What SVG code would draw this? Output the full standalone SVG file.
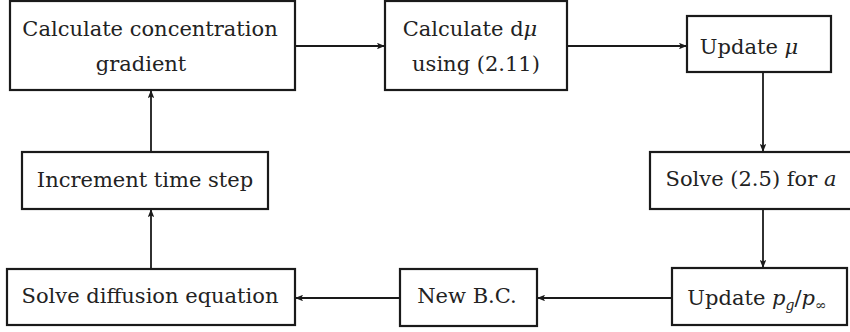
<svg xmlns="http://www.w3.org/2000/svg" width="850" height="332" viewBox="0 0 850 332">
<style>
.box{fill:#fff;stroke:#1a1a1a;stroke-width:2.2}
.t{font-family:'DejaVu Serif',serif;font-size:21px;fill:#222;text-anchor:middle}
.i{font-style:italic}
.c{stroke:#1a1a1a;stroke-width:1.8;fill:none;marker-end:url(#ah)}
</style>
<defs>
<marker id="ah" viewBox="0 0 10 8" refX="10" refY="4" markerWidth="8" markerHeight="6.4" markerUnits="userSpaceOnUse" orient="auto">
<path d="M0,0 L10,4 L0,8 L2,4 z" fill="#1a1a1a"/>
</marker>
</defs>
<rect width="850" height="332" fill="#fff"/>
<g id="connectors">
<line class="c" x1="296" y1="46" x2="385" y2="46"/>
<line class="c" x1="567" y1="46" x2="687" y2="46"/>
<line class="c" x1="763" y1="72" x2="763" y2="152"/>
<line class="c" x1="763" y1="209" x2="763" y2="268"/>
<line class="c" x1="672" y1="298" x2="537" y2="298"/>
<line class="c" x1="400" y1="298" x2="295" y2="298"/>
<line class="c" x1="151" y1="269" x2="151" y2="209"/>
<line class="c" x1="151" y1="152" x2="151" y2="90"/>
</g>
<g id="n1">
<rect class="box" x="10" y="1" width="285" height="89"/>
<text class="t" x="150" y="36">Calculate concentration</text>
<text class="t" x="141" y="71">gradient</text>
</g>
<g id="n2">
<rect class="box" x="385" y="1" width="182" height="89"/>
<text class="t" x="470" y="36">Calculate d<tspan class="i">μ</tspan></text>
<text class="t" x="476" y="71">using (2.11)</text>
</g>
<g id="n3">
<rect class="box" x="687" y="16" width="144" height="56"/>
<text class="t" x="749" y="54">Update <tspan class="i">μ</tspan></text>
</g>
<g id="n4">
<rect class="box" x="650" y="152" width="210" height="57"/>
<text class="t" x="751" y="186">Solve (2.5) for <tspan class="i">a</tspan></text>
</g>
<g id="n5">
<rect class="box" x="672" y="268" width="175" height="57"/>
<text class="t" x="757" y="305">Update <tspan class="i">p</tspan><tspan class="i" font-size="14" dy="5">g</tspan><tspan dy="-5">/</tspan><tspan class="i">p</tspan><tspan font-size="14" dy="5">∞</tspan></text>
</g>
<g id="n6">
<rect class="box" x="400" y="269" width="137" height="57"/>
<text class="t" x="467" y="303">New B.C.</text>
</g>
<g id="n7">
<rect class="box" x="7" y="269" width="288" height="56"/>
<text class="t" x="150" y="303">Solve diffusion equation</text>
</g>
<g id="n8">
<rect class="box" x="22" y="152" width="246" height="57"/>
<text class="t" x="145" y="187">Increment time step</text>
</g>
</svg>
